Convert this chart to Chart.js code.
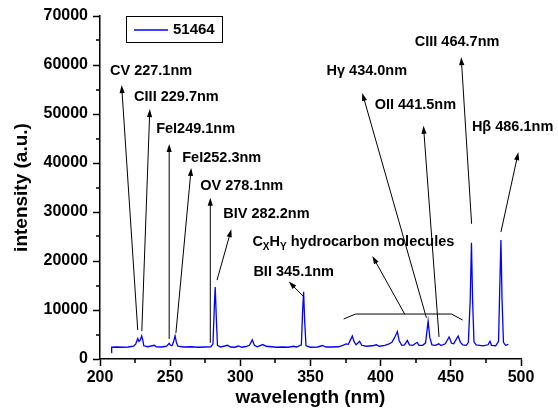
<!DOCTYPE html>
<html>
<head>
<meta charset="utf-8">
<script src="https://cdn.jsdelivr.net/npm/chart.js@4"></script>
<style>
  html, body { margin: 0; padding: 0; background: #fff; }
  #wrap { width: 558px; height: 413px; }
</style>
</head>
<body>
<div id="wrap"><canvas id="spec" width="558" height="413"></canvas></div>
<script>
// spectrum (wavelength nm, intensity a.u.)
const seriesName = '51464';
const wavelength = [
  208.0, 208.3, 212, 216, 220, 224, 225.5, 226.9, 227.8, 228.6, 229.7, 230.5, 231.2, 234, 238.7, 240,
  244, 247.5, 249.3, 250.3, 251.3, 252.3, 253.5, 254.5, 255.5, 260, 265, 270, 275, 279, 280.5, 281.5,
  282.1, 282.8, 283.7, 286, 291, 293, 296, 298.8, 301, 304, 306.5, 308.5, 310, 312, 316, 318.5,
  322, 326, 330, 334, 338, 340, 343.5, 344.4, 345.1, 345.8, 346.8, 350, 355, 358.6, 361, 365,
  370, 373, 375.5, 377, 378.5, 379.8, 381, 382.5, 385, 386.5, 390, 394, 397, 399, 403, 406,
  408, 410, 411.9, 413.2, 415, 417, 419, 420.5, 423, 424.5, 426, 427.3, 430, 432, 433.8, 435,
  436.5, 439, 441.4, 443, 446, 448.8, 450.5, 452, 453.8, 455.2, 456.8, 458.5, 461, 462.5, 463.8, 464.7,
  465.5, 466.5, 468, 473, 476.5, 477.9, 479, 482, 484, 484.9, 485.7, 486.5, 487.5, 489, 491
];
const intensity = [
  1300, 2400, 2450, 2400, 2450, 2600, 3100, 4200, 3600, 3800, 4700, 3900, 2700, 2500, 2800, 2500,
  2450, 2600, 3200, 2800, 2700, 3400, 4700, 3300, 2600, 2450, 2500, 2400, 2450, 2500, 3100, 11000,
  14700, 9000, 2800, 2450, 2800, 2450, 2400, 2650, 2400, 2550, 2800, 3900, 2800, 2500, 2950, 2600,
  2500, 2400, 2450, 2400, 2600, 2450, 2900, 10000, 13700, 8000, 2700, 2400, 2450, 2750, 2450, 2450,
  2500, 2800, 3100, 3000, 3900, 4700, 3600, 2900, 3600, 2800, 2600, 2700, 2900, 2600, 2800, 3100,
  3400, 4400, 5600, 3700, 2800, 2900, 3800, 2900, 2800, 3100, 3400, 2800, 2800, 3300, 7700, 4400,
  2900, 2800, 3100, 2750, 3100, 4500, 3200, 3100, 4000, 4700, 3400, 2900, 2800, 3400, 12000, 23700,
  12000, 3500, 2900, 2700, 2900, 3600, 2800, 2700, 3600, 15000, 24300, 12000, 3400, 2800, 3000
];

const xTicks = [200, 250, 300, 350, 400, 450, 500];
const yTicks = [0, 10000, 20000, 30000, 40000, 50000, 60000, 70000];

// line labels: text, label anchor (nm, intensity), arrow tail and tip (nm, intensity)
const lineNames = ['CV 227.1nm', 'CIII 229.7nm', 'FeI249.1nm', 'FeI252.3nm', 'OV 278.1nm', 'BIV 282.2nm',
  'BII 345.1nm', 'H\u03b3 434.0nm', 'OII 441.5nm', 'CIII 464.7nm', 'H\u03b2 486.1nm'];
const labelAt = [[207.1, 58780], [224.3, 53370], [240, 46940], [258.6, 41020], [271.4, 35310], [287.9, 29590],
  [309.3, 17760], [361.4, 58780], [395.7, 51840], [424.3, 64690], [465, 47350]];
const arrowTail = [[226.9, 5900], [229.8, 5700], [249.3, 4100], [254.1, 5300], [278.6, 3300], [283.4, 16100],
  [345.2, 12700], [432.6, 8400], [441.6, 4500], [464.8, 27600], [485.7, 25900]];
const arrowTip = [[215.4, 55900], [235.5, 51000], [249.3, 43900], [265, 39000], [278.6, 32900], [293.6, 26500],
  [334.5, 15800], [386.9, 54300], [430.5, 47600], [457.4, 61600], [498.1, 42200]];

// hydrocarbon band bracket and its arrow
const bandLabelAt = [308.6, 23880];
const bandBracket = [[373.6, 8160], [382.1, 9180], [450.5, 9180], [458.4, 7960]];
const bandArrow = [[417.1, 9180], [394.1, 21020]];

const FONT = '"Liberation Sans", Arial, Helvetica, sans-serif';

function arrow(ctx, x1, y1, x2, y2) {
  const ang = Math.atan2(y2 - y1, x2 - x1);
  const len = 8, half = 2.6;
  ctx.beginPath();
  ctx.moveTo(x1, y1);
  ctx.lineTo(x2 - Math.cos(ang) * len * 0.8, y2 - Math.sin(ang) * len * 0.8);
  ctx.stroke();
  ctx.beginPath();
  ctx.moveTo(x2, y2);
  ctx.lineTo(x2 - Math.cos(ang) * len - Math.sin(ang) * half, y2 - Math.sin(ang) * len + Math.cos(ang) * half);
  ctx.lineTo(x2 - Math.cos(ang) * len + Math.sin(ang) * half, y2 - Math.sin(ang) * len - Math.cos(ang) * half);
  ctx.closePath();
  ctx.fill();
}

const annotate = {
  id: 'annotate',
  afterDraw(chart) {
    const { ctx, scales: { x, y } } = chart;
    const px = v => x.getPixelForValue(v);
    const py = v => y.getPixelForValue(v);
    ctx.save();

    // minor ticks
    ctx.strokeStyle = '#000';
    ctx.lineWidth = 1.5;
    ctx.beginPath();
    for (let i = 0; i < xTicks.length - 1; i++) {
      const xm = Math.round(px((xTicks[i] + xTicks[i + 1]) / 2));
      ctx.moveTo(xm, y.bottom);
      ctx.lineTo(xm, y.bottom + 4);
    }
    for (let i = 0; i < yTicks.length - 1; i++) {
      const ym = Math.round(py((yTicks[i] + yTicks[i + 1]) / 2));
      ctx.moveTo(x.left, ym);
      ctx.lineTo(x.left - 4, ym);
    }
    ctx.stroke();

    // arrows
    ctx.lineWidth = 1;
    ctx.strokeStyle = '#000';
    ctx.fillStyle = '#000';
    for (let i = 0; i < lineNames.length; i++) {
      arrow(ctx, px(arrowTail[i][0]), py(arrowTail[i][1]), px(arrowTip[i][0]), py(arrowTip[i][1]));
    }
    ctx.beginPath();
    bandBracket.forEach((p, i) => {
      if (i === 0) ctx.moveTo(px(p[0]), py(p[1]));
      else ctx.lineTo(px(p[0]), py(p[1]));
    });
    ctx.stroke();
    arrow(ctx, px(bandArrow[0][0]), py(bandArrow[0][1]), px(bandArrow[1][0]), py(bandArrow[1][1]));

    // labels
    ctx.textAlign = 'left';
    ctx.textBaseline = 'middle';
    ctx.font = 'bold 14.5px ' + FONT;
    for (let i = 0; i < lineNames.length; i++) {
      ctx.fillText(lineNames[i], px(labelAt[i][0]), py(labelAt[i][1]));
    }

    // CxHy hydrocarbon molecules, with subscripts
    let tx = px(bandLabelAt[0]);
    const ty = py(bandLabelAt[1]);
    const parts = [['C', false], ['X', true], ['H', false], ['Y', true], [' hydrocarbon molecules', false]];
    parts.forEach(([t, sub]) => {
      ctx.font = sub ? 'bold 10px ' + FONT : 'bold 14.5px ' + FONT;
      ctx.fillText(t, tx, ty + (sub ? 5 : 0));
      tx += ctx.measureText(t).width;
    });

    // legend box
    const lx = x.left + 26, ly = y.top;
    ctx.lineWidth = 1;
    ctx.strokeRect(lx + 0.5, ly + 0.5, 96, 26);
    ctx.strokeStyle = '#0000ff';
    ctx.lineWidth = 1.3;
    ctx.beginPath();
    ctx.moveTo(lx + 8, ly + 14);
    ctx.lineTo(lx + 42, ly + 14);
    ctx.stroke();
    ctx.fillStyle = '#000';
    ctx.font = 'bold 15px ' + FONT;
    ctx.fillText(chart.data.datasets[0].label, lx + 47, ly + 14);

    ctx.restore();
  }
};

const axisCommon = {
  grid: { drawOnChartArea: false, drawTicks: true, tickLength: 7, tickColor: '#000', tickWidth: 1.5 },
  border: { display: true, color: '#000', width: 1.5 },
};

new Chart(document.getElementById('spec'), {
  type: 'line',
  data: {
    datasets: [{
      label: seriesName,
      data: wavelength.map((w, i) => ({ x: w, y: intensity[i] })),
      borderColor: '#0000ff',
      borderWidth: 1.3,
      pointRadius: 0,
      tension: 0,
      fill: false
    }]
  },
  options: {
    responsive: false,
    animation: false,
    devicePixelRatio: 1,
    layout: { padding: { top: 16, right: 37, left: 0, bottom: 0 } },
    plugins: { legend: { display: false }, tooltip: { enabled: false } },
    scales: {
      x: {
        ...axisCommon,
        type: 'linear',
        min: xTicks[0],
        max: xTicks[xTicks.length - 1],
        afterBuildTicks: s => { s.ticks = xTicks.map(v => ({ value: v })); },
        afterFit: s => { s.height = 54; },
        ticks: { color: '#000', padding: 2, font: { family: FONT, size: 16, weight: 'bold' }, callback: v => String(v) },
        title: { display: true, text: 'wavelength (nm)', color: '#000', padding: { top: 0, bottom: 4 },
          font: { family: FONT, size: 19, weight: 'bold' } }
      },
      y: {
        ...axisCommon,
        min: yTicks[0],
        max: yTicks[yTicks.length - 1],
        afterBuildTicks: s => { s.ticks = yTicks.map(v => ({ value: v })); },
        afterFit: s => { s.width = 100; },
        ticks: { color: '#000', padding: 5, font: { family: FONT, size: 16, weight: 'bold' }, callback: v => String(v) },
        title: { display: true, text: 'intensity (a.u.)', color: '#000', padding: { top: 10, bottom: 0 },
          font: { family: FONT, size: 19, weight: 'bold' } }
      }
    }
  },
  plugins: [annotate]
});
</script>
</body>
</html>
